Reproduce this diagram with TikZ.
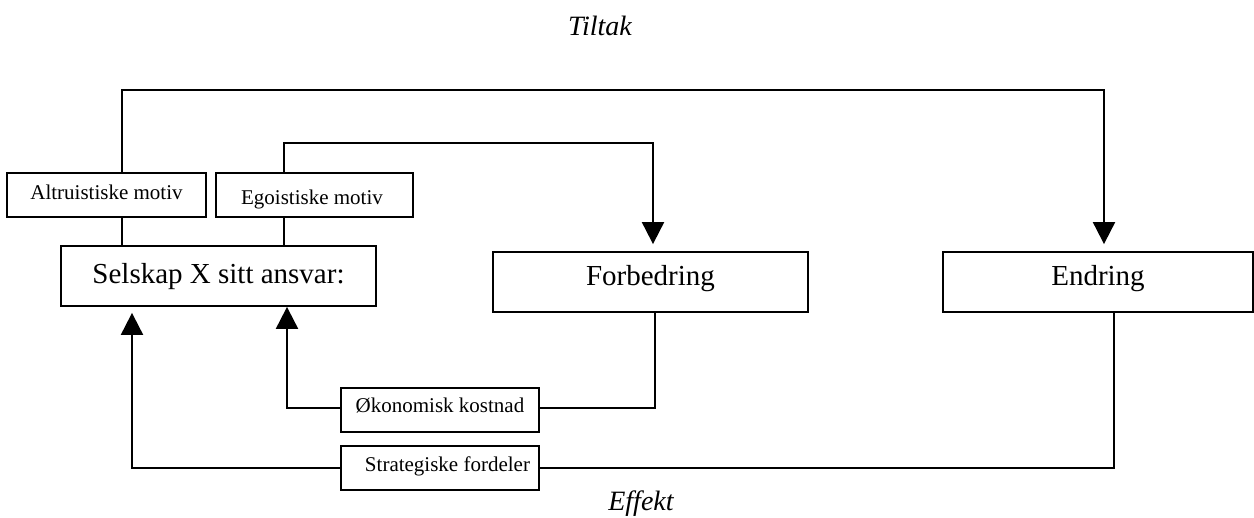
\documentclass[tikz,border=0pt]{standalone}
\usepackage{fontspec}
\setmainfont{Liberation Serif}
\usetikzlibrary{arrows.meta}
\begin{document}
\begin{tikzpicture}[x=0.5pt,y=-0.5pt,line width=1pt,
  conn/.style={draw=black,line width=1pt},
  arr/.style={conn,-{Triangle[width=11pt,length=11pt]}},
  bigbox/.style={draw,line width=0.9pt,inner sep=0pt,minimum width=157.5pt,minimum height=30pt,
    font=\fontsize{14.5}{17}\selectfont,text height=10pt,text depth=6pt},
  smallbox/.style={draw,line width=0.9pt,inner sep=0pt,minimum width=99pt,minimum height=22pt,
    font=\fontsize{10.5}{12.5}\selectfont},
  caption/.style={font=\fontsize{14}{17}\selectfont\itshape,anchor=base,inner sep=0pt}]
\useasboundingbox (0,0) rectangle (1254,518);

% titles
\node[caption] (tiltak) at (600,36) {Tiltak};
\node[caption] (effekt) at (641,510) {Effekt};

% boxes
\node[bigbox,text height=10pt,text depth=2pt] (sel) at (218.5,276) {Selskap X sitt ansvar:};
\node[bigbox,text height=9pt,text depth=5pt] (forb) at (650.5,282) {Forbedring};
\node[bigbox,minimum width=155pt,text height=9pt,text depth=5pt] (endr) at (1098,282) {Endring};
\node[smallbox,minimum width=99.5pt,text height=7pt,text depth=2pt] (alt) at (106.5,195) {Altruistiske motiv};
\node[smallbox,minimum width=98.5pt] (ego) at (314.5,195) {};
\begin{scope}
  \clip (ego.north west) rectangle ([yshift=4.75pt]ego.south east);
  \node[font=\fontsize{10.5}{12.5}\selectfont,anchor=base,inner sep=0pt] (egotext) at (312,204.5) {Egoistiske motiv};
\end{scope}
\node[smallbox,text height=7pt,text depth=4pt] (oko) at (440,410) {Økonomisk kostnad};
\node[smallbox,text height=7pt,text depth=3pt] (strat) at (440,468) {\hspace*{7.5pt}Strategiske fordeler};

% helper coordinates
\coordinate (tl) at (122,90);
\coordinate (tr) at (1104,90);
\coordinate (el) at (284,143);
\coordinate (er) at (653,143);
\coordinate (fb) at (655,408);
\coordinate (ol) at (287,408);
\coordinate (eb) at (1114,468);
\coordinate (sl) at (132,468);

% connectors
\draw[arr,shorten >=3.5pt] (alt.north -| tl) -- (tl) -- (tr) -- (endr.north -| tr);
\draw[conn] (alt.south -| tl) -- (sel.north -| tl);
\draw[arr,shorten >=3.5pt] (ego.north -| el) -- (el) -- (er) -- (forb.north -| er);
\draw[conn] (ego.south -| el) -- (sel.north -| el);
\draw[conn] (forb.south -| fb) -- (fb) -- (oko.east |- fb);
\draw[arr] (oko.west |- ol) -- (ol) -- (sel.south -| ol);
\draw[conn] (endr.south -| eb) -- (eb) -- (strat.east);
\draw[arr,shorten >=3pt] (strat.west) -- (sl) -- (sel.south -| sl);
\end{tikzpicture}
\end{document}
